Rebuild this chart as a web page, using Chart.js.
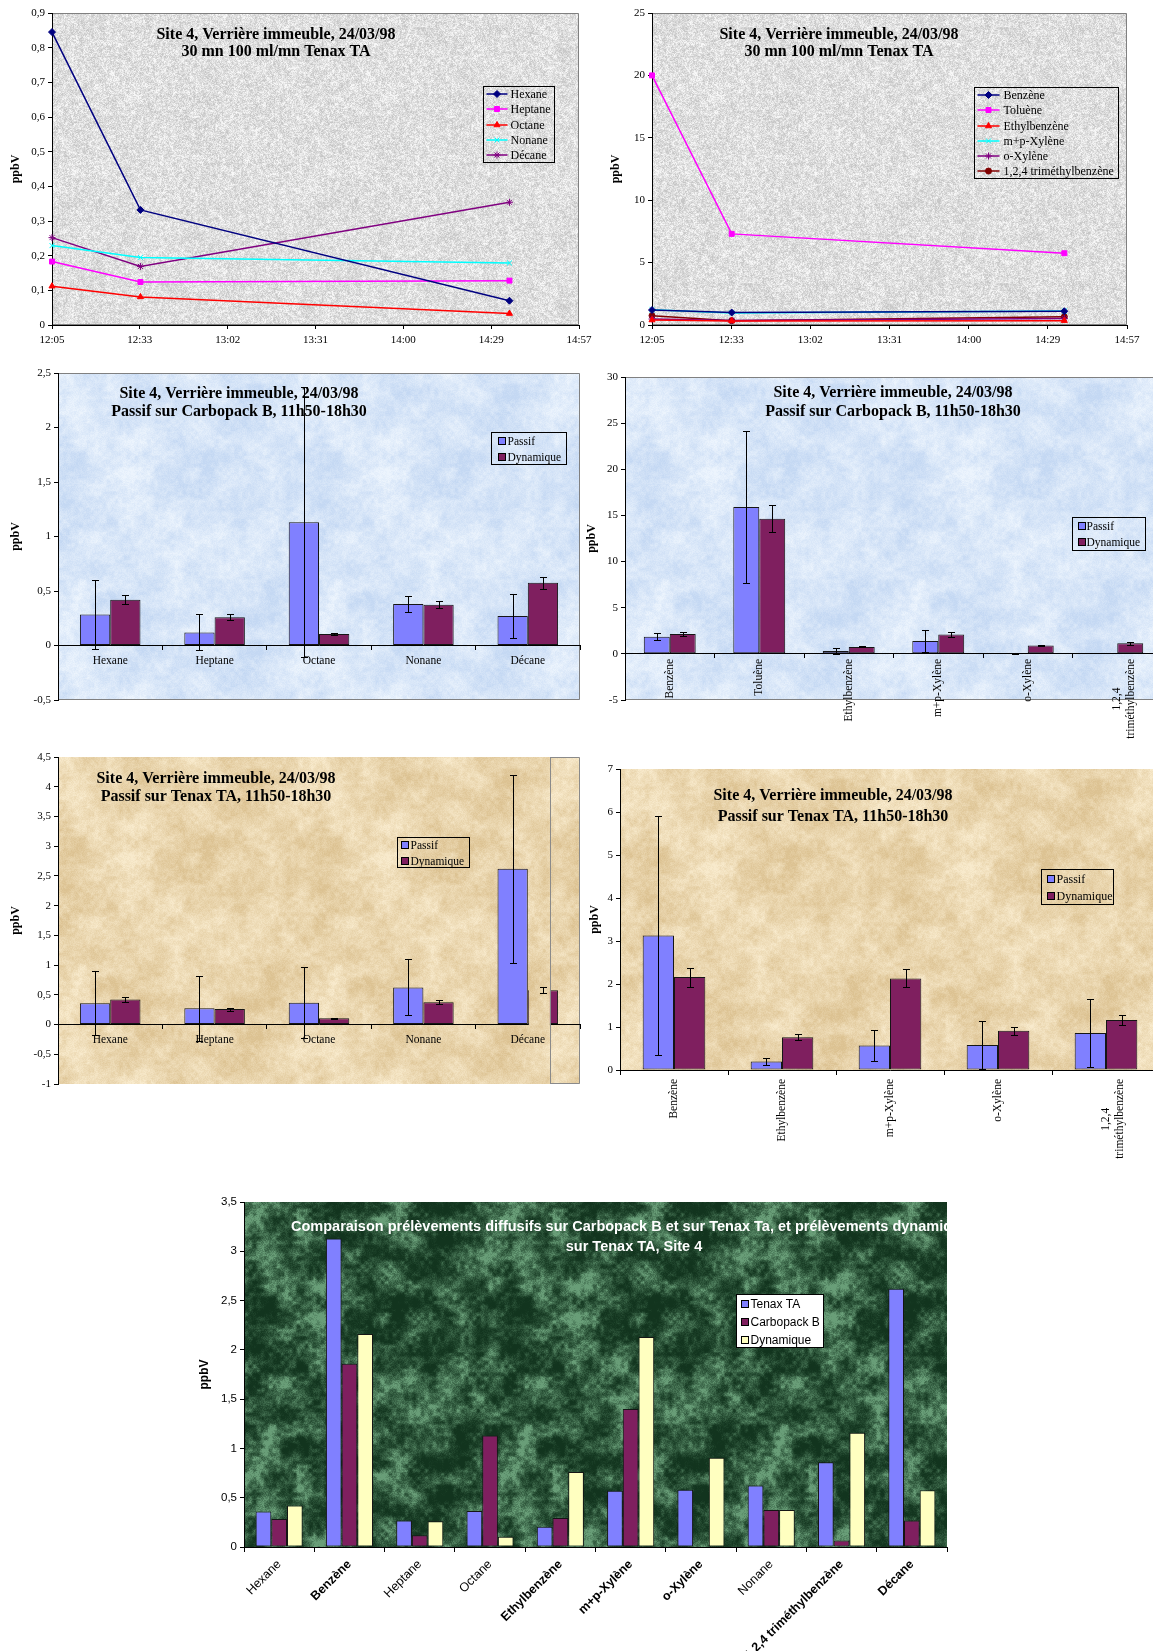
<!DOCTYPE html>
<html lang="fr">
<head>
<meta charset="utf-8">
<title>Site 4, Verrière immeuble, 24/03/98</title>
<script src="https://cdn.jsdelivr.net/npm/chart.js@4.4.1/dist/chart.umd.min.js"></script>
<style>
  html, body { margin: 0; padding: 0; background: #ffffff; }
  body { position: relative; width: 1153px; height: 1651px; overflow: hidden; }
  canvas { position: absolute; display: block; }
</style>
</head>
<body>
<script>
// ===================== DATA =====================
const yAxisTitle = 'ppbV';
const seriesPassif = 'Passif';
const seriesDynamique = 'Dynamique';

// --- Top charts: 30 mn 100 ml/mn Tenax TA (time series) ---
const sampleTimes = ['12:05', '12:34', '14:35'];
const timeAxisLabels = ['12:05', '12:33', '13:02', '13:31', '14:00', '14:29', '14:57'];
const timeMajorUnitMin = 0.02 * 24 * 60;   // Excel major unit 0.02 day

const lineAlkaneNames = ['Hexane', 'Heptane', 'Octane', 'Nonane', 'Décane'];
const lineHexane  = [0.845, 0.332, 0.070];
const lineHeptane = [0.183, 0.124, 0.128];
const lineOctane  = [0.112, 0.081, 0.033];
const lineNonane  = [0.229, 0.195, 0.179];
const lineDecane  = [0.252, 0.169, 0.354];

const lineAromaticNames = ['Benzène', 'Toluène', 'Ethylbenzène', 'm+p-Xylène', 'o-Xylène', '1,2,4 triméthylbenzène'];
const lineBenzene      = [1.20, 1.00, 1.10];
const lineToluene      = [20.0, 7.30, 5.75];
const lineEthylbenzene = [0.40, 0.33, 0.35];
const lineMPXylene     = [1.22, 0.97, 1.12];
const lineOXylene      = [0.48, 0.36, 0.52];
const lineTMB          = [0.75, 0.35, 0.66];

// --- Passif sur Carbopack B, alcanes ---
const alkaneCategories = ['Hexane', 'Heptane', 'Octane', 'Nonane', 'Décane'];
const carboAlkPassif    = [0.285, 0.12, 1.13, 0.38, 0.27];
const carboAlkPassifErr = [0.32, 0.165, 1.24, 0.07, 0.205];
const carboAlkDyn       = [0.42, 0.26, 0.105, 0.375, 0.575];
const carboAlkDynErr    = [0.04, 0.025, 0.01, 0.035, 0.055];

// --- Passif sur Carbopack B, aromatiques ---
const carboAromCategories = ['Benzène', 'Toluène', 'Ethylbenzène', 'm+p-Xylène', 'o-Xylène', ['1,2,4          ', 'triméthylbenzène']];
const carboAromPassif    = [1.85, 15.9, 0.30, 1.40, 0, 0.08];
const carboAromPassifErr = [0.38, 8.2, 0.30, 1.15, 0, 0.04];
const carboAromDyn       = [2.15, 14.65, 0.75, 2.10, 0.90, 1.15];
const carboAromDynErr    = [0.25, 1.45, 0.05, 0.25, 0.10, 0.15];

// --- Passif sur Tenax TA, alcanes ---
const tenaxAlkPassif    = [0.36, 0.275, 0.365, 0.625, 2.62];
const tenaxAlkPassifErr = [0.54, 0.545, 0.595, 0.47, 1.585];
const tenaxAlkDyn       = [0.42, 0.26, 0.105, 0.375, 0.575];
const tenaxAlkDynErr    = [0.04, 0.025, 0.01, 0.035, 0.05];

// --- Passif sur Tenax TA, aromatiques ---
const tenaxAromCategories = ['Benzène', 'Ethylbenzène', 'm+p-Xylène', 'o-Xylène', ['1,2,4          ', 'triméthylbenzène']];
const tenaxAromPassif    = [3.13, 0.20, 0.57, 0.58, 0.86];
const tenaxAromPassifErr = [2.77, 0.085, 0.37, 0.565, 0.80];
const tenaxAromDyn       = [2.16, 0.76, 2.13, 0.91, 1.16];
const tenaxAromDynErr    = [0.22, 0.07, 0.21, 0.09, 0.11];

// --- Comparaison ---
const compCategories = ['Hexane', 'Benzène', 'Heptane', 'Octane', 'Ethylbenzène', 'm+p-Xylène', 'o-Xylène', 'Nonane', '1,2,4 triméthylbenzène', 'Décane'];
const compSeriesNames = ['Tenax TA', 'Carbopack B', 'Dynamique'];
const compTenax = [0.36, 3.13, 0.27, 0.365, 0.205, 0.57, 0.58, 0.625, 0.86, 2.62];
const compCarbo = [0.285, 1.86, 0.12, 1.13, 0.295, 1.40, 0, 0.375, 0.065, 0.27];
const compDyn   = [0.42, 2.16, 0.26, 0.105, 0.76, 2.13, 0.905, 0.375, 1.16, 0.575];

// Titles
const titleDynamic    = ['Site 4, Verrière immeuble, 24/03/98', '30 mn 100 ml/mn Tenax TA'];
const titleCarbopack  = ['Site 4, Verrière immeuble, 24/03/98', 'Passif sur Carbopack B, 11h50-18h30'];
const titleTenax      = ['Site 4, Verrière immeuble, 24/03/98', 'Passif sur Tenax TA, 11h50-18h30'];
const titleComparison = ['Comparaison prélèvements diffusifs sur Carbopack B et sur Tenax Ta, et prélèvements dynamiques', 'sur Tenax TA, Site 4'];

// ===================== STYLE =====================
const SERIF = "'Liberation Serif', 'Times New Roman', serif";
const SANS = "'Liberation Sans', Arial, sans-serif";
const C_PASSIF = '#8080FF';
const C_DYN = '#7F1F5F';
const C_YELLOW = '#FFFFC0';
const compBoldLabels = ['Benzène', 'Ethylbenzène', 'm+p-Xylène', 'o-Xylène', '1,2,4 triméthylbenzène', 'Décane'];

// ===================== TEXTURES (deterministic) =====================
function hash2(i, j, s) {
  let h = (Math.imul(i | 0, 374761393) + Math.imul(j | 0, 668265263) + Math.imul(s | 0, 982451653)) | 0;
  h = Math.imul(h ^ (h >>> 13), 1274126177);
  h ^= h >>> 16;
  return (h >>> 0) / 4294967296;
}
function noiseAt(x, y, cell, size, seed) {
  const n = size / cell;
  const gx = x / cell, gy = y / cell;
  const x0 = Math.floor(gx), y0 = Math.floor(gy);
  let fx = gx - x0, fy = gy - y0;
  fx = fx * fx * (3 - 2 * fx); fy = fy * fy * (3 - 2 * fy);
  const w = v => ((v % n) + n) % n;
  const a = hash2(w(x0), w(y0), seed), b = hash2(w(x0 + 1), w(y0), seed);
  const c = hash2(w(x0), w(y0 + 1), seed), d = hash2(w(x0 + 1), w(y0 + 1), seed);
  const top = a + (b - a) * fx, bot = c + (d - c) * fx;
  return top + (bot - top) * fy;
}
function makeTexture(c0, c1, layers, contrast, gamma) {
  const size = 256;
  const cv = document.createElement('canvas');
  cv.width = size; cv.height = size;
  const cx = cv.getContext('2d');
  const img = cx.createImageData(size, size);
  let wsum = 0; layers.forEach(l => { wsum += l[1]; });
  for (let y = 0; y < size; y++) {
    for (let x = 0; x < size; x++) {
      let t = 0;
      for (let k = 0; k < layers.length; k++) t += layers[k][1] * noiseAt(x, y, layers[k][0], size, k + 7);
      t /= wsum;
      t = Math.min(1, Math.max(0, (t - 0.5) * contrast + 0.5));
      t = Math.pow(t, gamma);
      const p = (y * size + x) * 4;
      img.data[p] = c0[0] + (c1[0] - c0[0]) * t;
      img.data[p + 1] = c0[1] + (c1[1] - c0[1]) * t;
      img.data[p + 2] = c0[2] + (c1[2] - c0[2]) * t;
      img.data[p + 3] = 255;
    }
  }
  cx.putImageData(img, 0, 0);
  return cv;
}
const TEX_GRAY  = makeTexture([198, 198, 198], [248, 248, 248], [[1, 1], [2, 0.7], [4, 0.35], [16, 0.15]], 1.7, 1);
const TEX_BLUE  = makeTexture([196, 216, 243], [236, 244, 253], [[64, 0.6], [16, 0.7], [4, 0.5], [1, 0.35]], 1.7, 1);
const TEX_TAN   = makeTexture([220, 194, 146], [248, 234, 204], [[64, 0.6], [16, 0.7], [4, 0.5], [1, 0.35]], 1.7, 1);
const TEX_GREEN = makeTexture([18, 52, 30], [105, 158, 120], [[64, 0.5], [16, 1], [4, 0.7], [1, 0.3]], 2.1, 1.7);

// ===================== HELPERS =====================
function toMinutes(s) { const p = s.split(':'); return (+p[0]) * 60 + (+p[1]); }
function fmtNum(v) { return String(Math.round(v * 100) / 100).replace('.', ','); }

function makeCanvas(r) {
  const c = document.createElement('canvas');
  c.width = r.w; c.height = r.h;
  c.style.left = r.x + 'px'; c.style.top = r.y + 'px';
  c.style.width = r.w + 'px'; c.style.height = r.h + 'px';
  document.body.appendChild(c);
  return c;
}

function drawLegend(chart, L, X, Y) {
  const ctx = chart.ctx;
  const x = Math.round(X(L.x)) + 0.5, y = Math.round(Y(L.y)) + 0.5;
  ctx.save();
  if (L.bg) { ctx.fillStyle = L.bg; ctx.fillRect(x, y, L.w, L.h); }
  ctx.strokeStyle = '#000'; ctx.lineWidth = 1; ctx.strokeRect(x, y, L.w, L.h);
  ctx.font = L.font; ctx.textBaseline = 'middle'; ctx.textAlign = 'left';
  chart.data.datasets.forEach((ds, i) => {
    const cy = Math.round(y + L.row0 + i * L.rowH);
    if (L.kind === 'line') {
      ctx.strokeStyle = ds.borderColor; ctx.lineWidth = 1.5;
      ctx.beginPath(); ctx.moveTo(x + L.sym0, cy); ctx.lineTo(x + L.sym1, cy); ctx.stroke();
      ctx.fillStyle = ds.pointBackgroundColor; ctx.lineWidth = 1;
      Chart.helpers.drawPoint(ctx, { pointStyle: ds.pointStyle, radius: ds.pointRadius, borderWidth: 1, rotation: 0 }, x + (L.sym0 + L.sym1) / 2, cy);
    } else {
      const bx = Math.round(x + L.sym0), by = Math.round(cy - L.box / 2);
      ctx.fillStyle = ds.backgroundColor; ctx.fillRect(bx, by, L.box, L.box);
      ctx.strokeStyle = '#000'; ctx.lineWidth = 1; ctx.strokeRect(bx + 0.5, by + 0.5, L.box - 1, L.box - 1);
    }
    ctx.fillStyle = '#000';
    ctx.fillText(ds.label, x + L.text, cy + 0.5);
  });
  ctx.restore();
}

function makeDecor(r, d) {
  const X = v => v - r.x, Y = v => v - r.y;
  function coverRange(chart) {
    if (!d.cover) return null;
    const meta = chart.getDatasetMeta(d.cover.dataset);
    const el = meta.data[meta.data.length - 1];
    const left = el.x - el.width / 2;
    return { left: left + 1, right: left + el.width * d.cover.fraction };
  }
  return {
    id: 'decor',
    beforeDraw(chart) {
      const ctx = chart.ctx, a = chart.chartArea;
      ctx.save();
      if (d.texture) {
        ctx.fillStyle = ctx.createPattern(d.texture, 'repeat');
        ctx.fillRect(a.left, a.top, a.right - a.left, a.bottom - a.top);
      }
      if (d.frame) {
        ctx.strokeStyle = d.frame; ctx.lineWidth = 1;
        const cov = coverRange(chart);
        const fl = cov ? Math.round(cov.right) + 0.5 : a.left;
        const t = Math.round(a.top) + 0.5, b = Math.round(a.bottom) - 0.5, rr = Math.round(a.right) - 0.5;
        ctx.beginPath();
        ctx.moveTo(fl, t); ctx.lineTo(rr, t); ctx.lineTo(rr, b); ctx.lineTo(fl, b);
        ctx.stroke();
      }
      ctx.restore();
    },
    beforeDatasetsDraw(chart) {
      if (!d.title) return;
      const ctx = chart.ctx, a = chart.chartArea;
      ctx.save();
      if (d.title.clip) { ctx.beginPath(); ctx.rect(a.left, a.top, a.right - a.left, a.bottom - a.top); ctx.clip(); }
      ctx.font = d.title.font; ctx.fillStyle = d.title.color;
      ctx.textAlign = 'center'; ctx.textBaseline = 'middle';
      d.title.lines.forEach((line, i) => ctx.fillText(line, X(d.title.x), Y(d.title.y[i])));
      ctx.restore();
    },
    afterDatasetsDraw(chart) {
      const ctx = chart.ctx, a = chart.chartArea;
      const ys = chart.scales.y;
      const cov = coverRange(chart);
      if (cov) {
        ctx.save();
        ctx.fillStyle = ctx.createPattern(d.texture, 'repeat');
        const zeroY = Math.round(ys.getPixelForValue(0)) + 2;
        ctx.fillRect(cov.left, a.top, cov.right - cov.left, zeroY - a.top);
        ctx.strokeStyle = d.frame; ctx.lineWidth = 1;
        const vx = Math.round(cov.right) + 0.5;
        ctx.beginPath(); ctx.moveTo(vx, a.top); ctx.lineTo(vx, a.bottom); ctx.stroke();
        ctx.restore();
      }
      ctx.save(); ctx.strokeStyle = '#000'; ctx.lineWidth = 1;
      chart.data.datasets.forEach((ds, di) => {
        if (!ds.errorBars) return;
        const meta = chart.getDatasetMeta(di);
        meta.data.forEach((el, j) => {
          const v = ds.data[j], e = ds.errorBars[j];
          if (v == null || e == null) return;
          const x = Math.round(el.x) + 0.5;
          const y1 = Math.round(ys.getPixelForValue(v + e)) + 0.5;
          const y2 = Math.round(ys.getPixelForValue(v - e)) + 0.5;
          ctx.beginPath();
          ctx.moveTo(x, y1); ctx.lineTo(x, y2);
          ctx.moveTo(x - 3.5, y1); ctx.lineTo(x + 3.5, y1);
          ctx.moveTo(x - 3.5, y2); ctx.lineTo(x + 3.5, y2);
          ctx.stroke();
        });
      });
      ctx.restore();
      if (d.legend) drawLegend(chart, d.legend, X, Y);
    }
  };
}

function yAxis(r, a, o) {
  const tf = o.yTitleFont;
  return {
    type: 'linear', position: 'left', min: o.min, max: o.max,
    ticks: { stepSize: o.step, color: '#000', font: o.yTickFont, padding: 3, callback: fmtNum },
    grid: { drawOnChartArea: false, drawTicks: true, tickLength: 4, color: '#000' },
    border: { display: true, color: '#000', width: 1 },
    title: { display: true, text: yAxisTitle, color: '#000', font: tf,
             padding: { top: o.yTitleX - r.x - tf.size * 0.6, bottom: 0 } },
    afterFit: s => { s.width = a.L - r.x; }
  };
}

function lineChart(r, a, cfg) {
  const canvas = makeCanvas(r);
  const t = sampleTimes.map(toMinutes);
  const datasets = cfg.series.map(s => ({
    label: s.label,
    data: s.values.map((v, i) => ({ x: t[i], y: v })),
    borderColor: s.color, backgroundColor: s.color,
    pointBackgroundColor: s.color, pointBorderColor: s.color,
    pointStyle: s.marker, pointRadius: s.radius, pointBorderWidth: 1,
    borderWidth: 1.5, tension: 0, clip: false, fill: false
  }));
  const xH = 25;
  const tMin = toMinutes(timeAxisLabels[0]);
  return new Chart(canvas, {
    type: 'line',
    data: { datasets },
    options: {
      responsive: false, animation: false, devicePixelRatio: 1, events: [],
      layout: { padding: { left: 0, top: a.T - r.y, right: r.x + r.w - a.R, bottom: r.y + r.h - a.B - xH } },
      plugins: { legend: { display: false }, title: { display: false }, tooltip: { enabled: false } },
      scales: {
        x: {
          type: 'linear', position: 'bottom',
          min: tMin, max: tMin + timeMajorUnitMin * (timeAxisLabels.length - 1),
          ticks: { stepSize: timeMajorUnitMin, autoSkip: false, maxRotation: 0, color: '#000',
                   font: { family: SERIF, size: 11 }, padding: 5,
                   callback: (v, i) => timeAxisLabels[i] },
          grid: { drawOnChartArea: false, tickLength: 4, color: '#000' },
          border: { color: '#000', width: 1 },
          afterFit: s => { s.height = xH; }
        },
        y: yAxis(r, a, cfg)
      }
    },
    plugins: [makeDecor(r, cfg.decor)]
  });
}

function barChart(r, a, cfg) {
  const canvas = makeCanvas(r);
  const datasets = cfg.series.map(s => ({
    label: s.label, data: s.data, errorBars: s.err || null,
    backgroundColor: s.color, borderColor: '#151515', borderWidth: 1, borderSkipped: false,
    categoryPercentage: cfg.catPct, barPercentage: 1
  }));
  return new Chart(canvas, {
    type: 'bar',
    data: { labels: cfg.labels, datasets },
    options: {
      responsive: false, animation: false, devicePixelRatio: 1, events: [],
      layout: { padding: { left: 0, top: a.T - r.y, right: r.x + r.w - a.R, bottom: r.y + r.h - a.B } },
      plugins: { legend: { display: false }, title: { display: false }, tooltip: { enabled: false } },
      scales: {
        x: {
          type: 'category', position: { y: 0 }, offset: true,
          grid: { offset: true, drawOnChartArea: false, drawTicks: true, tickLength: 4, color: '#000' },
          border: { color: '#000', width: 1 },
          ticks: { color: '#000', font: cfg.xFont, padding: cfg.xPad, autoSkip: false,
                   minRotation: cfg.rot, maxRotation: cfg.rot }
        },
        y: yAxis(r, a, cfg)
      }
    },
    plugins: [makeDecor(r, cfg.decor)]
  });
}

// ===================== CHARTS =====================
const serifTick = { family: SERIF, size: 11 };
const serifYTitle = { family: SERIF, size: 12, weight: 'bold' };
const serifTitleFont = 'bold 16px ' + SERIF;
const serifLegendFont = '12px ' + SERIF;

// 1. Alcanes, time series
lineChart({ x: 0, y: 0, w: 600, h: 350 }, { L: 52, R: 579, T: 13, B: 325 }, {
  min: 0, max: 0.9, step: 0.1, yTickFont: serifTick, yTitleFont: serifYTitle, yTitleX: 16,
  series: [
    { label: lineAlkaneNames[0], values: lineHexane,  color: '#000080', marker: 'rectRot', radius: 3.5 },
    { label: lineAlkaneNames[1], values: lineHeptane, color: '#FF00FF', marker: 'rect', radius: 3.5 },
    { label: lineAlkaneNames[2], values: lineOctane,  color: '#FF0000', marker: 'triangle', radius: 3.5 },
    { label: lineAlkaneNames[3], values: lineNonane,  color: '#00FFFF', marker: 'crossRot', radius: 3.5 },
    { label: lineAlkaneNames[4], values: lineDecane,  color: '#800080', marker: 'star', radius: 3.5 }
  ],
  decor: {
    texture: TEX_GRAY, frame: '#808080',
    title: { lines: titleDynamic, font: serifTitleFont, color: '#000', x: 276, y: [35, 52] },
    legend: { kind: 'line', x: 483, y: 86, w: 71, h: 76, row0: 7.6, rowH: 15.2, sym0: 3, sym1: 24, text: 27, font: serifLegendFont }
  }
});

// 2. Aromatiques, time series
lineChart({ x: 583, y: 0, w: 570, h: 350 }, { L: 652, R: 1127, T: 13, B: 325 }, {
  min: 0, max: 25, step: 5, yTickFont: serifTick, yTitleFont: serifYTitle, yTitleX: 616,
  series: [
    { label: lineAromaticNames[0], values: lineBenzene,      color: '#000080', marker: 'rectRot', radius: 3.5 },
    { label: lineAromaticNames[1], values: lineToluene,      color: '#FF00FF', marker: 'rect', radius: 3.5 },
    { label: lineAromaticNames[2], values: lineEthylbenzene, color: '#FF0000', marker: 'triangle', radius: 3.5 },
    { label: lineAromaticNames[3], values: lineMPXylene,     color: '#00FFFF', marker: 'crossRot', radius: 3.5 },
    { label: lineAromaticNames[4], values: lineOXylene,      color: '#800080', marker: 'star', radius: 3.5 },
    { label: lineAromaticNames[5], values: lineTMB,          color: '#800000', marker: 'circle', radius: 3 }
  ],
  decor: {
    texture: TEX_GRAY, frame: '#808080',
    title: { lines: titleDynamic, font: serifTitleFont, color: '#000', x: 839, y: [35, 52] },
    legend: { kind: 'line', x: 974, y: 87, w: 144, h: 91, row0: 7.6, rowH: 15.2, sym0: 3, sym1: 25, text: 29, font: serifLegendFont }
  }
});

// 3. Carbopack B, alcanes
barChart({ x: 0, y: 345, w: 583, h: 370 }, { L: 58, R: 580, T: 373, B: 700 }, {
  labels: alkaneCategories, catPct: 0.58, rot: 0, xPad: 5, xFont: { family: SERIF, size: 11.5 },
  min: -0.5, max: 2.5, step: 0.5, yTickFont: serifTick, yTitleFont: serifYTitle, yTitleX: 16,
  series: [
    { label: seriesPassif, data: carboAlkPassif, err: carboAlkPassifErr, color: C_PASSIF },
    { label: seriesDynamique, data: carboAlkDyn, err: carboAlkDynErr, color: C_DYN }
  ],
  decor: {
    texture: TEX_BLUE, frame: '#808080',
    title: { lines: titleCarbopack, font: serifTitleFont, color: '#000', x: 239, y: [394, 411.5] },
    legend: { kind: 'box', x: 491, y: 432, w: 75, h: 32, row0: 8, rowH: 16, sym0: 6, box: 8, text: 16, font: '11.5px ' + SERIF }
  }
});

// 4. Carbopack B, aromatiques
barChart({ x: 583, y: 345, w: 582, h: 415 }, { L: 625, R: 1162, T: 377, B: 700 }, {
  labels: carboAromCategories, catPct: 0.58, rot: 90, xPad: 1, xFont: { family: SERIF, size: 11.5 },
  min: -5, max: 30, step: 5, yTickFont: serifTick, yTitleFont: serifYTitle, yTitleX: 592,
  series: [
    { label: seriesPassif, data: carboAromPassif, err: carboAromPassifErr, color: C_PASSIF },
    { label: seriesDynamique, data: carboAromDyn, err: carboAromDynErr, color: C_DYN }
  ],
  decor: {
    texture: TEX_BLUE, frame: '#808080',
    title: { lines: titleCarbopack, font: serifTitleFont, color: '#000', x: 893, y: [393, 412] },
    legend: { kind: 'box', x: 1072, y: 517, w: 73, h: 33, row0: 8.5, rowH: 16, sym0: 5, box: 8, text: 14, font: '11.5px ' + SERIF }
  }
});

// 5. Tenax TA, alcanes
barChart({ x: 0, y: 730, w: 583, h: 370 }, { L: 58, R: 580, T: 757, B: 1084 }, {
  labels: alkaneCategories, catPct: 0.58, rot: 0, xPad: 5, xFont: { family: SERIF, size: 11.5 },
  min: -1, max: 4.5, step: 0.5, yTickFont: serifTick, yTitleFont: serifYTitle, yTitleX: 16,
  series: [
    { label: seriesPassif, data: tenaxAlkPassif, err: tenaxAlkPassifErr, color: C_PASSIF },
    { label: seriesDynamique, data: tenaxAlkDyn, err: tenaxAlkDynErr, color: C_DYN }
  ],
  decor: {
    texture: TEX_TAN, frame: '#8a8a8a', cover: { dataset: 1, fraction: 0.73 },
    title: { lines: titleTenax, font: serifTitleFont, color: '#000', x: 216, y: [779, 796.5] },
    legend: { kind: 'box', x: 397, y: 837, w: 72, h: 30, row0: 7.5, rowH: 15.5, sym0: 3, box: 8, text: 13, font: '11.5px ' + SERIF }
  }
});

// 6. Tenax TA, aromatiques
barChart({ x: 583, y: 740, w: 580, h: 440 }, { L: 620, R: 1160, T: 769, B: 1070 }, {
  labels: tenaxAromCategories, catPct: 0.58, rot: 90, xPad: 5, xFont: { family: SERIF, size: 11.5 },
  min: 0, max: 7, step: 1, yTickFont: serifTick, yTitleFont: serifYTitle, yTitleX: 595,
  series: [
    { label: seriesPassif, data: tenaxAromPassif, err: tenaxAromPassifErr, color: C_PASSIF },
    { label: seriesDynamique, data: tenaxAromDyn, err: tenaxAromDynErr, color: C_DYN }
  ],
  decor: {
    texture: TEX_TAN, frame: null,
    title: { lines: titleTenax, font: serifTitleFont, color: '#000', x: 833, y: [796, 816.5] },
    legend: { kind: 'box', x: 1041, y: 869, w: 72, h: 35, row0: 9, rowH: 17, sym0: 5, box: 8, text: 15, font: '12px ' + SERIF }
  }
});

// 7. Comparaison
barChart({ x: 190, y: 1190, w: 770, h: 461 }, { L: 244, R: 947, T: 1202, B: 1547 }, {
  labels: compCategories, catPct: 0.67, rot: 45, xPad: 6,
  xFont: ctx => ({ family: SANS, size: 12.5, weight: compBoldLabels.includes(compCategories[ctx.index]) ? 'bold' : 'normal' }),
  min: 0, max: 3.5, step: 0.5, yTickFont: { family: SANS, size: 11.5 },
  yTitleFont: { family: SANS, size: 12, weight: 'bold' }, yTitleX: 205,
  series: [
    { label: compSeriesNames[0], data: compTenax, color: C_PASSIF },
    { label: compSeriesNames[1], data: compCarbo, color: C_DYN },
    { label: compSeriesNames[2], data: compDyn, color: C_YELLOW }
  ],
  decor: {
    texture: TEX_GREEN, frame: null,
    title: { lines: titleComparison, font: 'bold 14.5px ' + SANS, color: '#ffffff', x: 634, y: [1227, 1246.5], clip: true },
    legend: { kind: 'box', x: 736, y: 1294, w: 87, h: 53, row0: 9, rowH: 18, sym0: 4, box: 8, text: 14, font: '12px ' + SANS, bg: '#ffffff' }
  }
});
</script>
</body>
</html>
